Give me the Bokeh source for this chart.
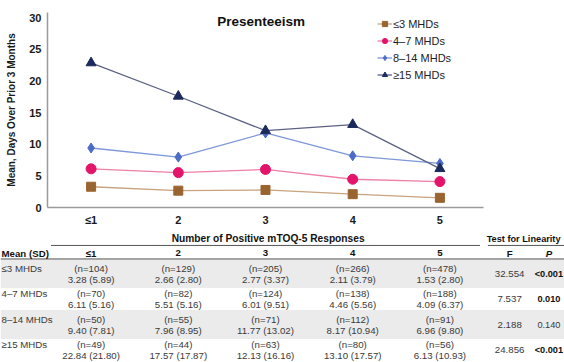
from bokeh.plotting import figure
from bokeh.models import (ColumnDataSource, Range1d, Label, Legend, LegendItem,
                          FixedTicker, CustomJSTickFormatter)
from bokeh.core.properties import value
from bokeh.embed import file_html
from bokeh.resources import INLINE

# ---------------- data ----------------
categories = ["≤1", "2", "3", "4", "5"]
groups = ["≤3 MHDs", "4–7 MHDs", "8–14 MHDs", "≥15 MHDs"]
mean_le3 = [3.28, 2.66, 2.77, 2.11, 1.53]
mean_4_7 = [6.11, 5.51, 6.01, 4.46, 4.09]
mean_8_14 = [9.40, 7.96, 11.77, 8.17, 6.96]
mean_ge15 = [22.84, 17.57, 12.13, 13.10, 6.13]
sd_le3 = [5.89, 2.80, 3.37, 3.79, 2.80]
sd_4_7 = [5.16, 5.16, 9.51, 5.56, 6.37]
sd_8_14 = [7.81, 8.95, 13.02, 10.94, 9.80]
sd_ge15 = [21.80, 17.87, 16.16, 17.57, 10.93]
n_le3 = [104, 129, 205, 266, 478]
n_4_7 = [70, 82, 124, 138, 188]
n_8_14 = [50, 55, 71, 112, 91]
n_ge15 = [49, 44, 63, 80, 56]
f_values = ["32.554", "7.537", "2.188", "24.856"]
p_values = ["<0.001", "0.010", "0.140", "<0.001"]
p_bold = [True, True, False, True]
y_ticks = [0, 5, 10, 15, 20, 25, 30]

means = [mean_le3, mean_4_7, mean_8_14, mean_ge15]
sds = [sd_le3, sd_4_7, sd_8_14, sd_ge15]
ns = [n_le3, n_4_7, n_8_14, n_ge15]

# ---------------- styles ----------------
FONT_NAME = "Liberation Sans"
FONT = value(FONT_NAME)
marker_colors = ["#9a6430", "#e3146a", "#4a6cc6", "#1b2a5c"]
line_colors = ["#c9a27e", "#ee7fa6", "#7d97d8", "#5b6283"]
markers = ["square", "circle", "diamond", "triangle"]
msizes = [9, 10, 10, 10]

W = 564
CH = 228
TH = 134
LEFT, RIGHT, TOP, BOTTOM = 47, 81, 12, 21

xs = list(range(1, len(categories) + 1))

# ---------------- chart ----------------
p = figure(width=W, height=CH, output_backend="svg", toolbar_location=None,
           x_range=Range1d(0.5, 5.5), y_range=Range1d(0, 30.8),
           min_border_left=LEFT, min_border_right=RIGHT,
           min_border_top=TOP, min_border_bottom=BOTTOM)
p.outline_line_color = None
p.grid.visible = False

for ax in (p.xaxis[0], p.yaxis[0]):
    ax.axis_line_color = "#9a9a9a"
    ax.axis_line_width = 1.5
    ax.major_tick_out = 0
    ax.major_tick_in = 0
    ax.minor_tick_out = 0
    ax.minor_tick_in = 0
    ax.major_label_text_font = FONT_NAME
    ax.major_label_text_font_style = "bold"
    ax.major_label_text_font_size = "11px"
    ax.major_label_text_color = "#1a1a1a"

p.xaxis.ticker = FixedTicker(ticks=xs)
p.xaxis.formatter = CustomJSTickFormatter(
    args=dict(labels=categories), code="return labels[Math.round(tick) - 1];")
p.xaxis.major_label_standoff = 6
p.yaxis.ticker = FixedTicker(ticks=y_ticks)
p.yaxis.major_label_standoff = 6
p.yaxis.axis_label = "Mean, Days Over Prior 3 Months"
p.yaxis.axis_label_text_font = FONT_NAME
p.yaxis.axis_label_text_font_style = "bold"
p.yaxis.axis_label_text_font_size = "10px"
p.yaxis.axis_label_text_color = "#1a1a1a"
p.yaxis.axis_label_standoff = 9

items = []
for g, m, mc, lc, mk, ms in zip(groups, means, marker_colors, line_colors, markers, msizes):
    src = ColumnDataSource(dict(x=xs, y=m))
    lr = p.line("x", "y", source=src, line_color=lc, line_width=1.3)
    sr = p.scatter("x", "y", source=src, marker=mk, size=ms,
                   fill_color=mc, line_color=mc)
    items.append(LegendItem(label=g, renderers=[lr, sr]))

legend = Legend(items=items, location=(330, 126), orientation="vertical",
                border_line_color=None, background_fill_alpha=0,
                padding=0, margin=0, spacing=4, glyph_width=15,
                glyph_height=13, label_height=13, label_standoff=1,
                label_text_font=FONT_NAME, label_text_font_size="11px",
                label_text_color="#222222")
p.add_layout(legend)

p.add_layout(Label(x=2.95, y=29.3, text="Presenteeism", text_align="center",
                   text_baseline="middle", text_font=FONT_NAME,
                   text_font_style="bold", text_font_size="13.5px",
                   text_color="#111111"))

# ---------------- table ----------------
ppu = (W - LEFT - RIGHT) / 5.0
tx0 = 0.5 - LEFT / ppu
tx1 = 5.5 + RIGHT / ppu
row_h = 25.5
ty_top = -45 / row_h
ty_bot = ty_top + TH / row_h

t = figure(width=W, height=TH, output_backend="svg", toolbar_location=None,
           x_range=Range1d(tx0, tx1), y_range=Range1d(ty_bot, ty_top),
           min_border=0)
t.outline_line_color = None
t.grid.visible = False
t.axis.visible = False

rows = list(range(len(groups)))
x_label = tx0 + 1.0 / ppu
x_f = 5.80
x_p = 6.25

shade = ColumnDataSource(dict(left=[tx0, tx0], right=[tx1, tx1],
                              bottom=[rows[0] + 0.57, rows[2] + 0.57],
                              top=[rows[0] - 0.57, rows[2] - 0.57]))
t.quad(left="left", right="right", bottom="bottom", top="top", source=shade,
       fill_color="#ebebeb", line_color=None)

t.segment(x0=[0.54, 5.55, tx0], x1=[5.46, tx1, tx1],
          y0=[-1.1, -1.1, -0.57], y1=[-1.1, -1.1, -0.57],
          line_color="#555555", line_width=1)

def txt(fig, xs_, ys_, texts, bold=False, align="center", italic=False,
        size="9.7px", color="#3a3a3a"):
    style = "bold" if bold else "normal"
    if italic:
        style = "bold italic" if bold else "italic"
    src = ColumnDataSource(dict(x=xs_, y=ys_, text=texts))
    fig.text("x", "y", "text", source=src, text_align=align,
             text_baseline="middle", text_font=FONT, text_font_style=style,
             text_font_size=size, text_color=color)

txt(t, [3.03], [-1.37], ["Number of Positive mTOQ-5 Responses"], bold=True,
    size="10.2px", color="#111111")
txt(t, [5.96], [-1.37], ["Test for Linearity"], bold=True, size="9.2px",
    color="#111111")
txt(t, [x_label], [-0.8], ["Mean (SD)"], bold=True, align="left",
    color="#111111")
txt(t, xs, [-0.8] * len(xs), categories, bold=True, color="#111111")
txt(t, [x_f], [-0.8], ["F"], bold=True, color="#111111")
txt(t, [x_p], [-0.8], ["P"], bold=True, italic=True, color="#111111")

txt(t, [x_label] * len(groups), [r - 0.2 for r in rows], groups, align="left")
bx, by, bt = [], [], []
for r, nrow, mrow, srow in zip(rows, ns, means, sds):
    for c, nn, mm, ss in zip(xs, nrow, mrow, srow):
        bx += [c, c]
        by += [r - 0.2, r + 0.22]
        bt += [f"(n={nn})", f"{mm:.2f} ({ss:.2f})"]
txt(t, bx, by, bt)
txt(t, [x_f] * len(rows), rows, f_values)
bold_rows = [r for r, b in zip(rows, p_bold) if b]
txt(t, [x_p] * len(bold_rows), bold_rows,
    [pv for pv, b in zip(p_values, p_bold) if b], bold=True, color="#111111",
    size="9.2px")
norm_rows = [r for r, b in zip(rows, p_bold) if not b]
txt(t, [x_p] * len(norm_rows), norm_rows,
    [pv for pv, b in zip(p_values, p_bold) if not b], size="9.2px")

open("out.html", "w").write(file_html([p, t], INLINE))
